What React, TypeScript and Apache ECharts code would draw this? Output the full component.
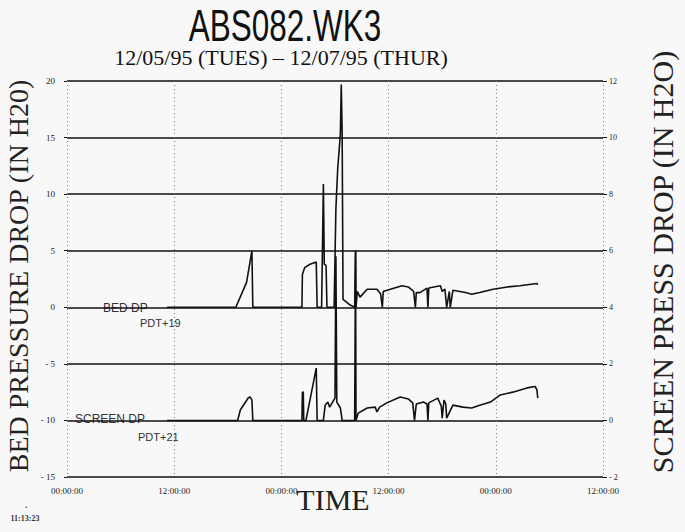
import React, { useEffect, useRef } from 'react';
import * as echarts from 'echarts';

// X axis: hours from 00:00:00 12/05/95, ticks every 12 h
const xTickLabels = ['00:00:00', '12:00:00', '00:00:00', '12:00:00', '00:00:00', '12:00:00'];
const leftTicks = [-15, -10, -5, 0, 5, 10, 15, 20];
const rightTicks = [-2, 0, 2, 4, 6, 8, 10, 12];

// BED DP (left axis, in H2O)
const bedHours = [11.2, 18.9, 20.1, 20.7, 20.8, 26.3, 26.35, 26.6, 27.2, 27.9, 28.0, 28.5, 28.7, 28.8, 29.0, 29.1,
  29.9, 30.1, 30.3, 30.6, 30.7, 30.8, 30.9, 31.7, 32.2, 32.3, 32.35, 32.5, 32.8, 33.6, 34.7, 35.1, 35.3, 35.4,
  36.2, 37.5, 38.2, 38.8, 39.0, 39.1, 39.5, 40.3, 40.4, 40.5, 41.8, 42.0, 42.3, 42.5, 42.8, 42.9, 43.2, 44.6,
  45.3, 46.2, 47.7, 49.3, 50.7, 52.6, 52.7];
const bedValues = [0, 0, 2.2, 5.0, 0, 0, 2.9, 3.5, 3.8, 4.0, 0, 0, 10.9, 3.8, 3.7, 0,
  0, 8.7, 12.2, 15.3, 19.7, 15.5, 0.7, 0.2, 0, 5.0, 0, 1.4, 0.9, 1.6, 1.6, 1.2, 0, 1.4,
  1.6, 1.9, 1.8, 1.4, 0, 1.3, 1.3, 1.7, 0, 1.7, 1.9, 1.4, 1.6, 0, 1.4, 0, 1.5, 1.3,
  1.15, 1.3, 1.6, 1.8, 1.9, 2.1, 2.0];

// SCREEN DP (right axis, in H2O)
const screenHours = [11.2, 19.1, 19.4, 20.3, 20.5, 20.7, 20.8, 26.3, 26.35, 26.45, 26.5, 26.75, 27.9, 28.0,
  28.7, 28.9, 29.2, 29.4, 30.0, 30.1, 30.2, 30.6, 30.8, 32.2, 32.3, 32.35, 32.6, 33.6, 34.5, 34.7, 35.0,
  35.8, 37.3, 38.2, 38.7, 38.9, 39.1, 39.9, 40.3, 40.4, 40.5, 41.5, 41.9, 42.0, 42.2, 42.4, 42.5, 43.2,
  44.3, 45.3, 46.2, 47.4, 48.5, 49.9, 51.5, 52.4, 52.6, 52.7];
const screenValues = [0, 0, 0.37, 0.8, 0.83, 0.72, 0, 0, 1.0, 1.0, 0, 0, 1.85, 0,
  0, 0.54, 0.65, 0.47, 0.79, 5.8, 0.65, 0.44, 0, 0, 6.0, 0, 0.26, 0.44, 0.47, 0.3, 0.47,
  0.62, 0.83, 0.76, 0.62, 0, 0.58, 0.65, 0.58, 0, 0.62, 0.79, 0.5, 0.08, 0.72, 0.58, 0.08, 0.54,
  0.47, 0.44, 0.54, 0.65, 0.9, 1.0, 1.15, 1.2, 1.08, 0.79];

const SERIF = '"Liberation Serif", "DejaVu Serif", serif';
const SANS = '"Liberation Sans", Arial, sans-serif';

export default function App() {
  const ref = useRef<HTMLDivElement>(null);
  useEffect(() => {
    if (!ref.current) return;
    const chart = echarts.init(ref.current, null, { renderer: 'svg' });
    const bed = bedHours.map((h, i) => [h, bedValues[i]]);
    const scr = screenHours.map((h, i) => [h, screenValues[i]]);
    chart.setOption({
      animation: false,
      backgroundColor: '#f8f8f8',
      grid: { left: 67, right: 82, top: 81, bottom: 55, containLabel: false },
      xAxis: {
        type: 'value', min: 0, max: 60, interval: 12,
        axisLine: { show: false },
        axisTick: { show: false },
        axisLabel: {
          margin: 9, fontSize: 9, fontFamily: SERIF, color: '#222',
          formatter: (v: number) => xTickLabels[Math.round(v / 12)] ?? '',
        },
        splitLine: { show: true, lineStyle: { color: '#777', type: [1, 3], width: 1 } },
      },
      yAxis: [
        {
          type: 'value', min: leftTicks[0], max: leftTicks[leftTicks.length - 1], interval: 5,
          axisLine: { show: false },
          axisTick: { show: true, length: 3, lineStyle: { color: '#111' } },
          axisLabel: { margin: 12, fontSize: 9, fontFamily: SERIF, color: '#222',
            formatter: (v: number) => (v < 0 ? '- ' + Math.abs(v) : String(v)) },
          splitLine: { show: true, lineStyle: { color: '#111', width: 1.5 } },
        },
        {
          type: 'value', min: rightTicks[0], max: rightTicks[rightTicks.length - 1], interval: 2,
          position: 'right',
          axisLine: { show: false },
          axisTick: { show: true, length: 4, lineStyle: { color: '#111' } },
          axisLabel: { margin: 6, fontSize: 8, fontFamily: SERIF, color: '#222',
            formatter: (v: number) => (v < 0 ? '- ' + Math.abs(v) : String(v)) },
          splitLine: { show: false },
        },
      ],
      series: [
        {
          name: 'BED DP', type: 'line', yAxisIndex: 0, data: bed, showSymbol: false,
          lineStyle: { color: '#111', width: 1.6 },
        },
        {
          name: 'SCREEN DP', type: 'line', yAxisIndex: 1, data: scr, showSymbol: false,
          lineStyle: { color: '#111', width: 1.6 },
        },
      ],
      graphic: [
        { type: 'text', x: 285, y: 25, scaleX: 0.7, style: { text: 'ABS082.WK3', x: 0, y: 0, textAlign: 'center', textVerticalAlign: 'middle', font: '45px ' + SANS, fill: '#111' } },
        { type: 'text', x: 281, y: 57, style: { text: '12/05/95 (TUES) \u2013 12/07/95 (THUR)', textAlign: 'center', textVerticalAlign: 'middle', font: '22px ' + SERIF, fill: '#111' } },
        { type: 'text', x: 18, y: 276, rotation: Math.PI / 2, style: { text: 'BED PRESSURE DROP (IN H20)', x: 0, y: 0, textAlign: 'center', textVerticalAlign: 'middle', font: '28px ' + SERIF, fill: '#222' } },
        { type: 'text', x: 662, y: 262, rotation: Math.PI / 2, style: { text: 'SCREEN PRESS DROP (IN H2O)', x: 0, y: 0, textAlign: 'center', textVerticalAlign: 'middle', font: '30px ' + SERIF, fill: '#222' } },
        { type: 'text', x: 333, y: 499, style: { text: 'TIME', textAlign: 'center', textVerticalAlign: 'middle', font: '30px ' + SERIF, fill: '#222' } },
        { type: 'text', x: 103, y: 308, style: { text: 'BED DP', textAlign: 'left', textVerticalAlign: 'middle', font: '12px ' + SANS, fill: '#333' } },
        { type: 'text', x: 140, y: 323, style: { text: 'PDT+19', textAlign: 'left', textVerticalAlign: 'middle', font: '11px ' + SANS, fill: '#333' } },
        { type: 'text', x: 75, y: 419, style: { text: 'SCREEN DP', textAlign: 'left', textVerticalAlign: 'middle', font: '12px ' + SANS, fill: '#333' } },
        { type: 'text', x: 138, y: 437, style: { text: 'PDT+21', textAlign: 'left', textVerticalAlign: 'middle', font: '11px ' + SANS, fill: '#333' } },
        { type: 'text', x: 26, y: 505, style: { text: '.', textAlign: 'center', textVerticalAlign: 'middle', font: 'bold 9px ' + SERIF, fill: '#333' } },
        { type: 'text', x: 25, y: 518, style: { text: '11:13:23', textAlign: 'center', textVerticalAlign: 'middle', font: 'bold 8px ' + SERIF, fill: '#333' } },
      ],
    });
    return () => chart.dispose();
  }, []);
  return <div ref={ref} style={{ position: 'fixed', left: 0, top: 0, width: 685, height: 532 }} />;
}
